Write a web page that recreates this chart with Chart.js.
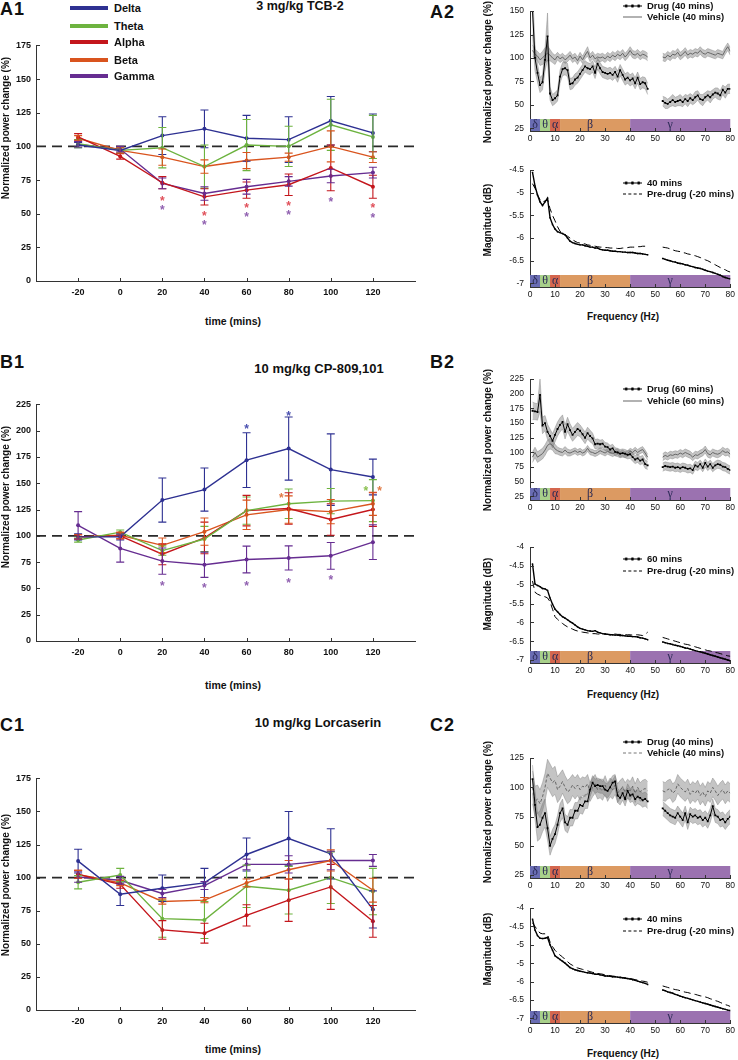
<!DOCTYPE html>
<html>
<head>
<meta charset="utf-8">
<script src="https://cdn.jsdelivr.net/npm/chart.js@4.4.1/dist/chart.umd.min.js"></script>
<style>
  body { margin: 0; background: #fff; width: 738px; height: 1060px; position: relative; overflow: hidden;
         font-family: "Liberation Sans", Arial, sans-serif; color: #111; }
  canvas { position: absolute; }
  .lb { position: absolute; white-space: nowrap; font-weight: bold; line-height: 1; }
  .sw { position: absolute; }
</style>
</head>
<body>
<canvas id="a1"></canvas>
<canvas id="b1"></canvas>
<canvas id="c1"></canvas>
<canvas id="a2t"></canvas>
<canvas id="a2b"></canvas>
<canvas id="b2t"></canvas>
<canvas id="b2b"></canvas>
<canvas id="c2t"></canvas>
<canvas id="c2b"></canvas>
<script>
// ---- time course panels (A1, B1, C1) ----
const TIME = [-20, 0, 20, 40, 60, 80, 100, 120];
const TIME_TICKS = [-20, 0, 20, 40, 60, 80, 100, 120];
const REF = 100;
const BAND_NAMES = ['Delta', 'Theta', 'Alpha', 'Beta', 'Gamma'];
const LINE_COLORS = ['#2e3192', '#6db33f', '#c4161c', '#d9541e', '#662d91'];
const STAR_COLORS = { delta: '#4a50b0', theta: '#8cc152', alpha: '#e0505a', beta: '#e07a45', gamma: '#9060b0' };

const A1_DELTA = [101, 97, 108, 113, 106, 105, 119, 110];
const A1_DELTA_SEM = [2, 2, 14, 14, 17, 17, 18, 14];
const A1_THETA = [102, 97, 99, 85, 101, 100, 116, 107];
const A1_THETA_SEM = [3, 2, 15, 16, 19, 15, 19, 16];
const A1_ALPHA = [107, 92.5, 73, 62.5, 67.5, 71.5, 84, 70];
const A1_ALPHA_SEM = [2.5, 2, 4.5, 6, 6, 8, 17, 8.5];
const A1_BETA = [106, 97, 92, 85, 89.5, 92, 100, 92];
const A1_BETA_SEM = [2, 2, 6, 5, 6, 3, 11.5, 4];
const A1_GAMMA = [101.5, 98, 72.5, 65, 70, 74, 78, 80.5];
const A1_GAMMA_SEM = [2, 2, 4, 5, 5.5, 3.5, 5, 4];
const A1_STARS = [
  { x: 20, y: 62, c: 'alpha' }, { x: 20, y: 54.6, c: 'gamma' },
  { x: 40, y: 50.4, c: 'alpha' }, { x: 40, y: 43.6, c: 'gamma' },
  { x: 60, y: 56.3, c: 'alpha' }, { x: 60, y: 49.4, c: 'gamma' },
  { x: 80, y: 57.8, c: 'alpha' }, { x: 80, y: 50.9, c: 'gamma' },
  { x: 100, y: 60.7, c: 'gamma' },
  { x: 120, y: 56.3, c: 'alpha' }, { x: 120, y: 49, c: 'gamma' }
];

const B1_DELTA = [99, 99, 134, 144, 172, 183, 163, 156];
const B1_DELTA_SEM = [3, 3, 21, 20.5, 26, 30, 34, 17];
const B1_THETA = [96, 103.5, 86, 97, 124, 130.5, 133, 133.5];
const B1_THETA_SEM = [2, 2, 4.5, 12, 13, 14, 12, 20];
const B1_ALPHA = [99, 100, 82.5, 98, 124, 126, 115.5, 125];
const B1_ALPHA_SEM = [2, 3, 10, 15, 14.5, 15, 15, 16];
const B1_BETA = [99, 100.5, 91, 104, 120, 125, 123, 130.5];
const B1_BETA_SEM = [2, 3, 7, 13, 14, 13, 11.5, 11];
const B1_GAMMA = [110, 88, 76, 72.5, 77.5, 79, 81, 94];
const B1_GAMMA_SEM = [13, 13, 12.5, 12, 12.7, 11.5, 12.7, 16.5];
const B1_STARS = [
  { x: 60, y: 204.5, c: 'delta' }, { x: 80, y: 217, c: 'delta' },
  { x: 76.5, y: 138.5, c: 'beta' }, { x: 116.7, y: 145.7, c: 'theta' }, { x: 123.2, y: 145.7, c: 'beta' },
  { x: 20, y: 55.4, c: 'gamma' }, { x: 40, y: 52.9, c: 'gamma' }, { x: 60, y: 55.4, c: 'gamma' },
  { x: 80, y: 57.9, c: 'gamma' }, { x: 100, y: 60.4, c: 'gamma' }
];

const C1_DELTA = [112.5, 87.5, 92, 96, 117.5, 129.5, 118, 76];
const C1_DELTA_SEM = [9, 8.5, 10, 11, 12.5, 20.5, 19, 14];
const C1_THETA = [96.5, 102, 69, 68, 93.5, 90.5, 100, 89.5];
const C1_THETA_SEM = [5, 5, 14, 14, 16, 18, 19.5, 17.5];
const C1_ALPHA = [102.5, 95, 60.5, 58, 71.5, 83, 93, 67];
const C1_ALPHA_SEM = [3, 3, 7, 7.5, 8, 16, 17, 12];
const C1_BETA = [102.5, 96, 82, 83, 96, 106, 113, 90.5];
const C1_BETA_SEM = [3, 2, 2, 2, 3, 7, 8, 9];
const C1_GAMMA = [100.5, 98, 88, 94, 110, 110, 113, 113];
const C1_GAMMA_SEM = [4, 3, 3, 3, 4, 6.5, 7, 4.5];

const Y175_TICKS = [0, 25, 50, 75, 100, 125, 150, 175];
const Y225_TICKS = [0, 25, 50, 75, 100, 125, 150, 175, 200, 225];

// ---- spectra panels (A2, B2, C2) ----
const FREQ = [1,2,3,4,5,6,7,8,9,10,11,12,13,14,15,16,17,18,19,20,21,22,23,24,25,26,27,28,29,30,
  31,32,33,34,35,36,37,38,39,40,41,42,43,44,45,46,47,
  53,54,55,56,57,58,59,60,61,62,63,64,65,66,67,68,69,70,71,72,73,74,75,76,77,78,79,80];
const FREQ_TICKS = [0, 10, 20, 30, 40, 50, 60, 70, 80];
const BANDS = [
  { from: 0, to: 4, mid: 2, label: 'δ', color: '#6a6db3' },
  { from: 4, to: 8, mid: 6, label: 'θ', color: '#a8d08a' },
  { from: 8, to: 12, mid: 10, label: 'α', color: '#d4664e' },
  { from: 12, to: 40, mid: 24, label: 'β', color: '#dc9a62' },
  { from: 40, to: 80, mid: 56, label: 'γ', color: '#9b72b0' }
];

const A2_DRUG = [150,100,84,71,74,98,123,62,55,57, 60,80,88,89,87,72,73,77,79,83,
  87,91,89,88,91,84,94,89,85,84, 83,84,82,85,80,87,82,77,79,76, 78,73,79,72,74,73,67,
  54,52,51,53,55,53,54,55,53,56, 54,57,55,58,60,56,55,58,60,58, 61,63,62,60,66,63,67,67];
const A2_DRUG_SEM = [25,14,10,8,8,12,25,7,6,6, 6,7,7,7,7,6,6,6,6,6,
  6,6,6,6,6,6,6,6,6,6, 6,6,6,6,6,6,6,6,6,6, 6,6,6,6,6,6,6,
  5,6,5,5,6,5,5,6,5,5, 6,5,5,6,5,5,6,5,5,6, 5,5,6,5,5,6,5,5];
const A2_VEH = [108,104,102,98,100,103,105,103,100,98, 102,99,101,98,100,103,99,101,97,102,
  98,103,107,100,103,99,101,100,101,99, 102,100,103,101,104,102,105,101,104,108, 104,103,105,102,104,103,101,
  101,100,103,101,104,103,106,102,104,107, 103,105,104,106,105,108,105,104,106,105, 104,103,105,104,103,108,112,107];
const A2_VEH_SEM = [6,5,5,6,7,8,8,6,5,5, 4,4,4,4,4,4,4,4,4,4,
  4,4,5,4,4,4,4,4,4,4, 4,4,4,4,4,4,4,4,4,4, 4,4,4,4,4,4,4,
  4,4,4,4,4,4,4,4,4,4, 4,4,4,4,4,4,4,4,4,4, 4,4,4,4,4,4,4,4];
const A2_MAG = [-4.55,-4.85,-5.05,-5.2,-5.28,-5.2,-5.12,-5.55,-5.7,-5.8,
  -5.86,-5.88,-5.9,-5.93,-6.0,-6.07,-6.1,-6.12,-6.14,-6.15,
  -6.15,-6.17,-6.18,-6.2,-6.2,-6.22,-6.22,-6.25,-6.26,-6.27,
  -6.27,-6.28,-6.29,-6.29,-6.3,-6.3,-6.31,-6.31,-6.32,-6.32,
  -6.32,-6.33,-6.34,-6.34,-6.35,-6.36,-6.37,
  -6.45,-6.47,-6.49,-6.5,-6.52,-6.53,-6.55,-6.56,-6.57,-6.59,
  -6.6,-6.62,-6.63,-6.65,-6.66,-6.67,-6.69,-6.71,-6.73,-6.74,
  -6.76,-6.78,-6.8,-6.82,-6.85,-6.87,-6.89,-6.9];
const A2_PRE = [-4.8,-4.9,-5.05,-5.15,-5.2,-5.18,-5.15,-5.35,-5.5,-5.62,
  -5.75,-5.85,-5.9,-5.93,-5.96,-6.0,-6.04,-6.07,-6.1,-6.11,
  -6.12,-6.13,-6.15,-6.16,-6.17,-6.18,-6.19,-6.2,-6.2,-6.21,
  -6.21,-6.22,-6.22,-6.22,-6.23,-6.23,-6.22,-6.22,-6.21,-6.2,
  -6.2,-6.2,-6.19,-6.19,-6.18,-6.18,-6.18,
  -6.2,-6.21,-6.22,-6.24,-6.26,-6.28,-6.29,-6.3,-6.32,-6.33,
  -6.35,-6.36,-6.38,-6.39,-6.41,-6.43,-6.45,-6.48,-6.5,-6.53,
  -6.56,-6.59,-6.62,-6.65,-6.68,-6.7,-6.73,-6.75];

const B2_DRUG = [171,170,169,198,146,150,135,128,120,130, 140,147,152,135,148,138,130,135,140,137,
  131,125,133,128,124,114,115,114,115,110, 109,105,107,101,100,98,99,98,96,97, 92,88,90,86,88,80,78,
  75,77,76,75,76,74,75,73,75,74, 72,73,70,78,76,80,74,82,76,80, 74,78,80,79,76,75,72,70];
const B2_DRUG_SEM = [15,14,14,28,14,13,13,12,12,12, 12,12,12,12,12,11,11,11,11,10,
  10,10,10,10,9,8,8,7,7,7, 7,7,7,7,7,7,7,7,7,7, 7,7,7,7,7,7,7,
  7,7,7,7,7,7,7,7,7,7, 7,7,7,7,7,7,7,7,7,7, 7,7,7,7,7,7,7,7];
const B2_VEH = [92,100,92,95,98,104,112,115,112,106, 103,101,100,104,100,99,101,103,100,102,
  99,101,107,101,100,98,100,103,101,99, 102,100,98,100,101,97,99,96,98,102, 100,104,100,103,105,99,92,
  92,95,93,96,95,97,96,99,97,100, 98,96,92,96,95,98,100,105,98,96, 100,98,97,99,103,100,101,97];
const B2_VEH_SEM = [9,9,9,9,9,9,9,9,8,8, 6,6,6,6,6,5,5,5,5,5,
  5,5,5,5,5,5,5,5,5,5, 5,5,5,5,5,5,5,5,5,5, 5,5,5,5,5,5,5,
  6,6,6,6,6,6,6,6,6,6, 6,6,6,6,6,6,6,6,6,6, 6,6,6,6,6,6,6,6];
const B2_MAG = [-4.45,-4.98,-5.02,-5.05,-5.1,-5.11,-5.15,-5.35,-5.52,-5.65,
  -5.72,-5.79,-5.85,-5.89,-5.93,-5.98,-6.02,-6.07,-6.12,-6.16,
  -6.18,-6.2,-6.22,-6.23,-6.24,-6.22,-6.26,-6.28,-6.3,-6.31,
  -6.32,-6.33,-6.33,-6.34,-6.34,-6.35,-6.35,-6.36,-6.37,-6.37,
  -6.38,-6.38,-6.39,-6.41,-6.42,-6.44,-6.46,
  -6.52,-6.54,-6.56,-6.57,-6.59,-6.61,-6.62,-6.64,-6.66,-6.68,
  -6.69,-6.71,-6.73,-6.75,-6.77,-6.78,-6.8,-6.82,-6.84,-6.86,
  -6.88,-6.9,-6.92,-6.94,-6.96,-6.98,-7.0,-7.02];
const B2_PRE = [-4.9,-5.2,-5.25,-5.28,-5.3,-5.32,-5.35,-5.45,-5.65,-5.85,
  -5.92,-5.98,-6.03,-6.08,-6.12,-6.15,-6.18,-6.21,-6.23,-6.25,
  -6.26,-6.27,-6.28,-6.29,-6.3,-6.3,-6.31,-6.31,-6.3,-6.31,
  -6.32,-6.32,-6.31,-6.31,-6.32,-6.32,-6.33,-6.33,-6.33,-6.33,
  -6.34,-6.33,-6.33,-6.34,-6.35,-6.32,-6.26,
  -6.4,-6.42,-6.44,-6.46,-6.48,-6.5,-6.52,-6.54,-6.56,-6.58,
  -6.59,-6.61,-6.63,-6.65,-6.67,-6.69,-6.71,-6.73,-6.75,-6.76,
  -6.78,-6.8,-6.81,-6.83,-6.85,-6.87,-6.89,-6.9];

const C2_DRUG = [107,85,66,68,74,78,65,50,56,60, 68,78,82,70,68,74,74,80,80,85,
  84,88,88,98,104,101,102,101,101,98, 97,100,104,105,93,91,95,90,97,93, 94,90,92,91,89,90,88,
  82,80,78,76,75,74,78,75,72,78, 70,77,75,76,74,75,72,74,71,76, 84,76,75,72,73,70,73,75];
const C2_DRUG_SEM = [12,12,12,12,12,12,10,8,8,8, 8,8,8,7,7,7,7,7,7,7,
  7,6,6,6,6,6,6,6,6,6, 6,6,6,6,6,6,6,6,6,6, 6,6,6,6,6,6,6,
  6,6,6,6,6,6,6,6,6,6, 6,6,6,6,6,6,6,6,6,6, 6,6,6,6,6,6,6,6];
const C2_VEH = [100,88,90,86,92,100,112,108,104,106, 98,101,105,100,96,98,102,99,102,98,
  101,100,103,96,100,103,98,99,97,102, 96,100,98,102,95,98,100,96,99,97, 101,95,100,96,98,99,97,
  97,96,98,99,95,97,103,100,98,96, 99,94,97,95,98,93,96,92,97,95, 100,97,93,96,98,94,97,95];
const C2_VEH_SEM = [14,13,12,12,12,12,12,12,12,12, 11,11,10,10,10,10,9,9,9,9,
  8,8,8,8,8,8,8,8,8,8, 8,8,8,8,8,8,8,8,8,8, 8,8,8,8,8,8,8,
  8,8,8,8,8,8,8,8,8,8, 8,8,8,8,8,8,8,8,8,8, 8,8,8,8,8,8,8,8];
const C2_MAG = [-4.3,-4.6,-4.75,-4.82,-4.83,-4.82,-4.8,-5.0,-5.15,-5.3,
  -5.35,-5.4,-5.45,-5.5,-5.56,-5.62,-5.65,-5.68,-5.7,-5.72,
  -5.73,-5.75,-5.76,-5.77,-5.78,-5.8,-5.8,-5.82,-5.83,-5.85,
  -5.85,-5.86,-5.87,-5.87,-5.88,-5.89,-5.9,-5.91,-5.92,-5.93,
  -5.95,-5.97,-5.99,-6.01,-6.03,-6.05,-6.08,
  -6.23,-6.25,-6.28,-6.3,-6.32,-6.35,-6.37,-6.4,-6.42,-6.44,
  -6.46,-6.48,-6.5,-6.52,-6.54,-6.56,-6.58,-6.6,-6.62,-6.64,
  -6.66,-6.68,-6.7,-6.72,-6.74,-6.76,-6.78,-6.79];
const C2_PRE = [-4.4,-4.5,-4.6,-4.68,-4.7,-4.7,-4.72,-4.92,-5.05,-5.15,
  -5.22,-5.28,-5.33,-5.4,-5.46,-5.52,-5.56,-5.6,-5.63,-5.65,
  -5.67,-5.69,-5.71,-5.73,-5.75,-5.76,-5.78,-5.79,-5.8,-5.82,
  -5.83,-5.84,-5.85,-5.86,-5.87,-5.88,-5.89,-5.9,-5.91,-5.92,
  -5.93,-5.95,-5.96,-5.98,-5.99,-6.0,-6.02,
  -6.12,-6.14,-6.16,-6.18,-6.2,-6.22,-6.23,-6.25,-6.27,-6.29,
  -6.3,-6.32,-6.34,-6.35,-6.37,-6.39,-6.4,-6.42,-6.44,-6.47,
  -6.49,-6.52,-6.54,-6.57,-6.6,-6.63,-6.65,-6.68];

const A2T_TICKS = [25, 50, 75, 100, 125, 150];
const B2T_TICKS = [25, 50, 75, 100, 125, 150, 175, 200, 225];
const C2T_TICKS = [25, 50, 75, 100, 125];
const A2B_TICKS = [-7, -6.5, -6, -5.5, -5, -4.5];
const B2B_TICKS = [-7, -6.5, -6, -5.5, -5, -4.5, -4];
const C2B_TICKS = [-7, -6.5, -6, -5.5, -5, -4.5, -4];
const C2B_LABELS = ['-7', '-6.5', '-6', '-5', '-5', '-4.5', '-4'];

Chart.defaults.font.family = '"Liberation Sans", Arial, sans-serif';
Chart.defaults.color = '#111';

// ---- plugins ----
const inTicks = {
  id: 'inTicks',
  afterDraw(chart) {
    const { ctx, chartArea: a, scales: { x, y } } = chart;
    ctx.save();
    ctx.strokeStyle = '#333';
    ctx.lineWidth = 1;
    x.ticks.forEach(t => {
      const px = Math.round(x.getPixelForValue(t.value)) + 0.5;
      ctx.beginPath(); ctx.moveTo(px, a.bottom); ctx.lineTo(px, a.bottom - 3); ctx.stroke();
    });
    y.ticks.forEach(t => {
      const py = Math.round(y.getPixelForValue(t.value)) + 0.5;
      ctx.beginPath(); ctx.moveTo(a.left, py); ctx.lineTo(a.left + 4, py); ctx.stroke();
    });
    ctx.restore();
  }
};

const errorBars = {
  id: 'errorBars',
  afterDatasetsDraw(chart) {
    const { ctx, scales: { x, y } } = chart;
    ctx.save();
    ctx.lineWidth = 1.1;
    chart.data.datasets.forEach(ds => {
      if (!ds.sem) return;
      ctx.strokeStyle = ds.borderColor;
      ds.data.forEach((p, j) => {
        const px = x.getPixelForValue(p.x);
        const top = y.getPixelForValue(p.y + ds.sem[j]);
        const bot = y.getPixelForValue(p.y - ds.sem[j]);
        ctx.beginPath();
        ctx.moveTo(px, top); ctx.lineTo(px, bot);
        ctx.moveTo(px - 4, top); ctx.lineTo(px + 4, top);
        ctx.moveTo(px - 4, bot); ctx.lineTo(px + 4, bot);
        ctx.stroke();
      });
    });
    ctx.restore();
  }
};

const STAR_SETS = { a1: A1_STARS, b1: B1_STARS };
const stars = {
  id: 'stars',
  afterDatasetsDraw(chart) {
    const items = STAR_SETS[chart.canvas.id];
    if (!items) return;
    const { ctx, scales: { x, y } } = chart;
    ctx.save();
    ctx.font = 'bold 12px "Liberation Sans", Arial, sans-serif';
    ctx.textAlign = 'center';
    ctx.textBaseline = 'alphabetic';
    items.forEach(s => {
      ctx.fillStyle = STAR_COLORS[s.c];
      ctx.fillText('*', x.getPixelForValue(s.x), y.getPixelForValue(s.y) + 7);
    });
    ctx.restore();
  }
};

const freqBands = {
  id: 'freqBands',
  beforeDatasetsDraw(chart) {
    if (!chart.canvas.id.includes('2')) return;
    const { ctx, chartArea: a, scales: { x } } = chart;
    ctx.save();
    BANDS.forEach(b => {
      const x0 = x.getPixelForValue(b.from), x1 = x.getPixelForValue(b.to);
      ctx.fillStyle = b.color;
      ctx.fillRect(x0, a.bottom - 12, x1 - x0, 12);
    });
    ctx.fillStyle = '#2a2a55';
    ctx.font = '12px "Liberation Serif", "DejaVu Serif", serif';
    ctx.textAlign = 'center';
    ctx.textBaseline = 'middle';
    BANDS.forEach(b => ctx.fillText(b.label, x.getPixelForValue(b.mid), a.bottom - 6.5));
    ctx.restore();
  }
};
Chart.register(inTicks, errorBars, stars, freqBands);

// ---- helpers ----
function place(id, area, m) {
  const c = document.getElementById(id);
  c.width = area.r - area.l + m.l + m.r;
  c.height = area.b - area.t + m.t + m.b;
  c.style.left = (area.l - m.l) + 'px';
  c.style.top = (area.t - m.t) + 'px';
  return c;
}

function axis(min, max, ticks, m, isX, font, pad, labels) {
  return {
    type: 'linear', min, max,
    afterBuildTicks: s => { s.ticks = ticks.map(v => ({ value: v })); },
    afterFit: s => { if (isX) s.height = m.b; else s.width = m.l; },
    grid: { display: false, drawTicks: false },
    border: { display: true, color: '#333', width: 1 },
    ticks: {
      font, color: '#111', padding: pad, maxRotation: 0, autoSkip: false,
      callback: labels ? (v, i) => labels[i] : (v => v)
    }
  };
}

function baseOptions(m, xs, ys) {
  return {
    responsive: false, animation: false, events: [],
    layout: { autoPadding: false, padding: { left: 0, top: m.t, right: m.r, bottom: 0 } },
    plugins: { legend: { display: false }, tooltip: { enabled: false } },
    scales: { x: xs, y: ys }
  };
}

function timeChart(id, area, yMax, yTicks, means, sems) {
  const m = { l: 36, t: 8, r: 6, b: 22 };
  const c = place(id, area, m);
  const datasets = means.map((vals, k) => ({
    label: BAND_NAMES[k],
    data: TIME.map((t, i) => ({ x: t, y: vals[i] })),
    sem: sems[k],
    borderColor: LINE_COLORS[k],
    backgroundColor: LINE_COLORS[k],
    borderWidth: 1.4,
    pointRadius: 2,
    pointBorderWidth: 0,
    tension: 0
  }));
  datasets.push({
    data: [{ x: -40, y: REF }, { x: 140, y: REF }],
    borderColor: '#2a2a2a', borderDash: [10, 6], borderWidth: 1.6, pointRadius: 0
  });
  const bold9 = { size: 9, weight: 'bold' };
  new Chart(c, {
    type: 'line',
    data: { datasets },
    options: baseOptions(m,
      axis(-40, 140, TIME_TICKS, m, true, bold9, 6),
      axis(0, yMax, yTicks, m, false, bold9, 5))
  });
}

function pts(vals, sem, sign) {
  const out = [];
  FREQ.forEach((f, i) => {
    if (i > 0 && f - FREQ[i - 1] > 1) out.push({ x: (f + FREQ[i - 1]) / 2, y: null });
    out.push({ x: f, y: vals[i] + (sem ? sign * sem[i] : 0) });
  });
  return out;
}

function specChart(id, area, yMin, yMax, yTicks, lines, fills, yLabels) {
  const m = { l: 40, t: 6, r: 4, b: 16 };
  const c = place(id, area, m);
  const datasets = lines.map(l => ({
    data: l.data, borderColor: l.color, backgroundColor: l.color, borderWidth: l.width,
    borderDash: l.dash || [], pointRadius: l.points || 0, pointStyle: 'rect', pointBorderWidth: 0,
    fill: false, spanGaps: false
  }));
  fills.forEach(f => {
    datasets.push({
      data: f.upper, fill: '+1', backgroundColor: 'rgba(125,125,125,0.45)',
      borderColor: 'rgba(110,110,110,0.6)', borderWidth: 0.6, pointRadius: 0, spanGaps: false
    });
    datasets.push({
      data: f.lower, fill: false, borderColor: 'rgba(110,110,110,0.6)', borderWidth: 0.6,
      pointRadius: 0, spanGaps: false
    });
  });
  const reg = { size: 8.5 };
  new Chart(c, {
    type: 'line',
    data: { datasets },
    options: baseOptions(m,
      axis(0, 80, FREQ_TICKS, m, true, reg, 3),
      axis(yMin, yMax, yTicks, m, false, reg, 6, yLabels))
  });
}

function powerPanel(id, area, yMin, yMax, ticks, drug, drugSem, veh, vehSem, vehDash) {
  specChart(id, area, yMin, yMax, ticks,
    [
      { data: pts(drug), color: '#000', width: 1, points: 1.3 },
      { data: pts(veh), color: '#666', width: 1, dash: vehDash ? [3, 2] : null }
    ],
    [
      { upper: pts(drug, drugSem, 1), lower: pts(drug, drugSem, -1) },
      { upper: pts(veh, vehSem, 1), lower: pts(veh, vehSem, -1) }
    ]);
}

function magPanel(id, area, yMin, yMax, ticks, drug, pre, labels) {
  specChart(id, area, yMin, yMax, ticks,
    [
      { data: pts(drug), color: '#000', width: 1.4, points: 1 },
      { data: pts(pre), color: '#000', width: 1, dash: [7, 4] }
    ], [], labels);
}

// ---- build charts ----
timeChart('a1', { l: 36, r: 415, t: 43, b: 281 }, 175, Y175_TICKS,
  [A1_DELTA, A1_THETA, A1_ALPHA, A1_BETA, A1_GAMMA],
  [A1_DELTA_SEM, A1_THETA_SEM, A1_ALPHA_SEM, A1_BETA_SEM, A1_GAMMA_SEM]);
timeChart('b1', { l: 36, r: 415, t: 402, b: 641 }, 225, Y225_TICKS,
  [B1_DELTA, B1_THETA, B1_ALPHA, B1_BETA, B1_GAMMA],
  [B1_DELTA_SEM, B1_THETA_SEM, B1_ALPHA_SEM, B1_BETA_SEM, B1_GAMMA_SEM]);
timeChart('c1', { l: 36, r: 415, t: 776, b: 1010 }, 175, Y175_TICKS,
  [C1_DELTA, C1_THETA, C1_ALPHA, C1_BETA, C1_GAMMA],
  [C1_DELTA_SEM, C1_THETA_SEM, C1_ALPHA_SEM, C1_BETA_SEM, C1_GAMMA_SEM]);

powerPanel('a2t', { l: 530, r: 734, t: 6, b: 131 }, 22, 150, A2T_TICKS, A2_DRUG, A2_DRUG_SEM, A2_VEH, A2_VEH_SEM, false);
magPanel('a2b', { l: 530, r: 734, t: 165, b: 287 }, -7.08, -4.5, A2B_TICKS, A2_MAG, A2_PRE);
powerPanel('b2t', { l: 530, r: 734, t: 374, b: 500 }, 19, 225, B2T_TICKS, B2_DRUG, B2_DRUG_SEM, B2_VEH, B2_VEH_SEM, false);
magPanel('b2b', { l: 530, r: 734, t: 542, b: 663 }, -7.08, -4, B2B_TICKS, B2_MAG, B2_PRE);
powerPanel('c2t', { l: 530, r: 734, t: 753, b: 878 }, 22.5, 125, C2T_TICKS, C2_DRUG, C2_DRUG_SEM, C2_VEH, C2_VEH_SEM, true);
magPanel('c2b', { l: 530, r: 734, t: 903, b: 1023 }, -7.13, -4, C2B_TICKS, C2_MAG, C2_PRE, C2B_LABELS);

// ---- text and legends ----
function addText(txt, x, y, size, opts = {}) {
  const d = document.createElement('div');
  d.className = 'lb';
  d.textContent = txt;
  d.style.left = x + 'px';
  d.style.top = y + 'px';
  d.style.fontSize = size + 'px';
  if (opts.spacing) d.style.letterSpacing = opts.spacing + 'px';
  const anchor = opts.left ? 'translate(0,-50%)' : 'translate(-50%,-50%)';
  d.style.transform = anchor + (opts.rot ? ' rotate(-90deg)' : '');
  document.body.appendChild(d);
}

function swatch(x, y, w, css) {
  const d = document.createElement('div');
  d.className = 'sw';
  d.style.left = x + 'px';
  d.style.top = y + 'px';
  d.style.width = w + 'px';
  d.style.transform = 'translateY(-50%)';
  Object.assign(d.style, css);
  document.body.appendChild(d);
}

// panel letters and titles
[['A1', 0, 9], ['A2', 430, 12], ['B1', 0, 362], ['B2', 430, 362], ['C1', 0, 725], ['C2', 430, 725]]
  .forEach(([t, x, y]) => addText(t, x, y, 18, { left: true, spacing: 1 }));
addText('3 mg/kg TCB-2', 300, 6, 12.5);
addText('10 mg/kg CP-809,101', 319, 368, 13);
addText('10 mg/kg Lorcaserin', 318, 722, 13);

// axis titles
[[128], [497], [885]].forEach(([y]) => addText('Normalized power  change (%)', 6, y, 10, { rot: true }));
[321, 685, 1049].forEach(y => addText('time (mins)', 233, y, 10.5));
[[72, 220], [440, 594], [812, 949]].forEach(([yp, ym]) => {
  addText('Normalized power change (%)', 488, yp, 10, { rot: true });
  addText('Magnitude (dB)', 488, ym, 10, { rot: true });
});
[317, 695, 1054].forEach(y => addText('Frequency (Hz)', 623, y, 10));

// A1 legend
const LEGEND_Y = [8, 26, 42, 60, 76];
BAND_NAMES.forEach((n, k) => {
  swatch(70, LEGEND_Y[k], 38, { height: '4px', background: LINE_COLORS[k] });
  addText(n, 114, LEGEND_Y[k], 11, { left: true });
});

// spectra legends
const SAMPLE = {
  drug: { height: '5px', background: 'radial-gradient(circle, #000 1.2px, transparent 1.6px) 0 0/6.3px 5px repeat-x, linear-gradient(#000,#000) 0 50%/100% 1px no-repeat' },
  veh: { height: '0', borderTop: '1px solid #666' },
  vehdash: { height: '0', borderTop: '1px dashed #777' },
  pre: { height: '0', borderTop: '1px dashed #000' }
};
function specLegend(y1, y2, t1, t2, kind2) {
  swatch(623, y1, 19, SAMPLE.drug);
  addText(t1, 647, y1, 9.5, { left: true });
  swatch(623, y2, 19, SAMPLE[kind2]);
  addText(t2, 647, y2, 9.5, { left: true });
}
specLegend(6, 17, 'Drug (40 mins)', 'Vehicle (40 mins)', 'veh');
specLegend(183, 194, '40 mins', 'Pre-drug (-20 mins)', 'pre');
specLegend(389, 401, 'Drug (60 mins)', 'Vehicle (60 mins)', 'veh');
specLegend(559, 571, '60 mins', 'Pre-drug (-20 mins)', 'pre');
specLegend(742, 753, 'Drug (40 mins)', 'Vehicle (40 mins)', 'vehdash');
specLegend(919, 931, '40 mins', 'Pre-drug (-20 mins)', 'pre');
</script>
</body>
</html>
